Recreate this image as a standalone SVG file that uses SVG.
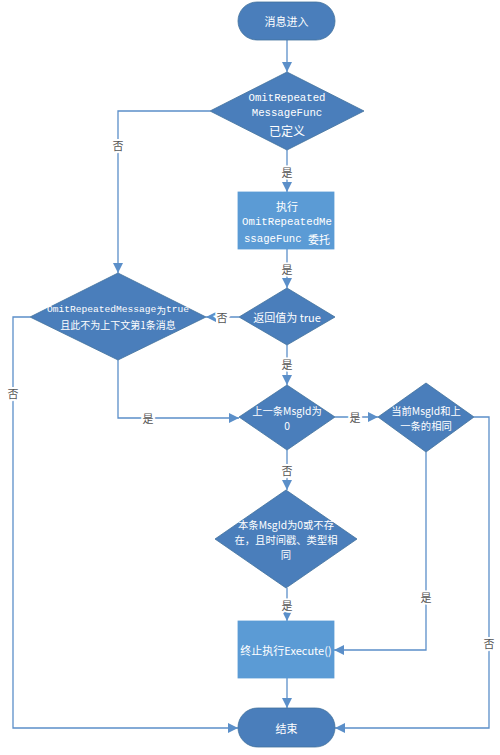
<svg xmlns="http://www.w3.org/2000/svg" width="500" height="755" viewBox="0 0 500 755">
<style>
.term{fill:#4A7EBB;stroke:#41719C;stroke-width:0.8}
.dia{fill:#4A7EBB;stroke:#41719C;stroke-width:0.8}
.proc{fill:#5B9BD5;stroke:#5B9BD5;stroke-width:0.8}
.t{fill:#ffffff;font-family:"Noto Sans CJK SC","Noto Sans",sans-serif;font-size:11px;text-anchor:middle;dominant-baseline:central}
.s{font-size:10.3px}
.m{fill:#ffffff;font-family:"Liberation Mono","DejaVu Sans Mono","Noto Sans CJK SC",monospace;font-size:10.7px;text-anchor:middle;dominant-baseline:central}
.c{fill:none;stroke:#5B8FC9;stroke-width:1.3}
.lb{fill:#555555;font-family:"Noto Sans CJK SC",sans-serif;font-size:11px;text-anchor:middle;dominant-baseline:central;stroke:#ffffff;stroke-width:4;paint-order:stroke}
</style>
<defs>
<marker id="arr" markerUnits="userSpaceOnUse" markerWidth="10" markerHeight="10" viewBox="0 0 10 10" refX="10" refY="5" orient="auto">
<path d="M0,0 L10,5 L0,10 Z" fill="#5B8FC9"/>
</marker>
</defs>
<g id="connectors">
<path class="c" d="M287,40 V72" marker-end="url(#arr)"/>
<path class="c" d="M287,150 V192" marker-end="url(#arr)"/>
<path class="c" d="M287,249 V288" marker-end="url(#arr)"/>
<path class="c" d="M239,317 H206" marker-end="url(#arr)"/>
<path class="c" d="M210,111 H118 V273" marker-end="url(#arr)"/>
<path class="c" d="M30,317 H13 V728 H238" marker-end="url(#arr)"/>
<path class="c" d="M118,360 V418 H239" marker-end="url(#arr)"/>
<path class="c" d="M287,345 V385" marker-end="url(#arr)"/>
<path class="c" d="M335,417 H378" marker-end="url(#arr)"/>
<path class="c" d="M287,450 V490" marker-end="url(#arr)"/>
<path class="c" d="M474,417 H489 V728 H335" marker-end="url(#arr)"/>
<path class="c" d="M426,452 V650 H334" marker-end="url(#arr)"/>
<path class="c" d="M287,588 V621" marker-end="url(#arr)"/>
<path class="c" d="M287,678 V708" marker-end="url(#arr)"/>
<text class="lb" x="287" y="172">是</text>
<text class="lb" x="287" y="269">是</text>
<text class="lb" x="222" y="317">否</text>
<text class="lb" x="118" y="145">否</text>
<text class="lb" x="13" y="393">否</text>
<text class="lb" x="148" y="418">是</text>
<text class="lb" x="287" y="364">是</text>
<text class="lb" x="355" y="417">是</text>
<text class="lb" x="287" y="470">否</text>
<text class="lb" x="489" y="643">否</text>
<text class="lb" x="426" y="597">是</text>
<text class="lb" x="287" y="605">是</text>
</g>
<g id="start">
<rect class="term" x="238" y="2" width="97" height="38" rx="19"/>
<text class="t" x="286.5" y="21">消息进入</text>
</g>
<g id="d1">
<polygon class="dia" points="287,72 364,111 287,150 210,111"/>
<text class="m" x="287" y="98">OmitRepeated</text>
<text class="m" x="287" y="113">MessageFunc</text>
<text class="t" x="287" y="130" style="font-size:12px">已定义</text>
</g>
<g id="p1">
<rect class="proc" x="238" y="192" width="96" height="57"/>
<text class="t" x="287" y="206">执行</text>
<text class="m" x="287" y="222">OmitRepeatedMe</text>
<text class="m" x="287" y="239"><tspan>ssageFunc </tspan><tspan style="font-family:'Noto Sans CJK SC',sans-serif;font-size:11px">委托</tspan></text>
</g>
<g id="d2">
<polygon class="dia" points="287,288 335,317 287,345 239,317"/>
<text class="t" x="287" y="317">返回值为 true</text>
</g>
<g id="d3">
<polygon class="dia" points="118,273 206,317 118,360 30,317"/>
<text class="m" x="118" y="309.5" style="font-size:9.6px">OmitRepeatedMessage<tspan style="font-family:'Noto Sans CJK SC',sans-serif;font-size:9.6px">为</tspan>true</text>
<text class="t" x="118" y="324" style="font-size:10px">且此不为上下文第1条消息</text>
</g>
<g id="d4">
<polygon class="dia" points="287,385 335,417 287,450 239,417"/>
<text class="t s" x="287" y="410">上一条MsgId为</text>
<text class="t s" x="287" y="425">0</text>
</g>
<g id="d5">
<polygon class="dia" points="426,383 474,417 426,452 378,417"/>
<text class="t s" x="426" y="410">当前MsgId和上</text>
<text class="t s" x="426" y="425">一条的相同</text>
</g>
<g id="d6">
<polygon class="dia" points="286,490 357,539 286,588 215,539"/>
<text class="t s" x="286" y="524">本条MsgId为0或不存</text>
<text class="t s" x="286" y="539">在，且时间戳、类型相</text>
<text class="t s" x="286" y="554">同</text>
</g>
<g id="p2">
<rect class="proc" x="238" y="621" width="96" height="57"/>
<text class="t" x="286" y="650">终止执行Execute()</text>
</g>
<g id="end">
<rect class="term" x="238" y="708" width="97" height="39" rx="19.5"/>
<text class="t" x="286.5" y="728">结束</text>
</g>
</svg>
